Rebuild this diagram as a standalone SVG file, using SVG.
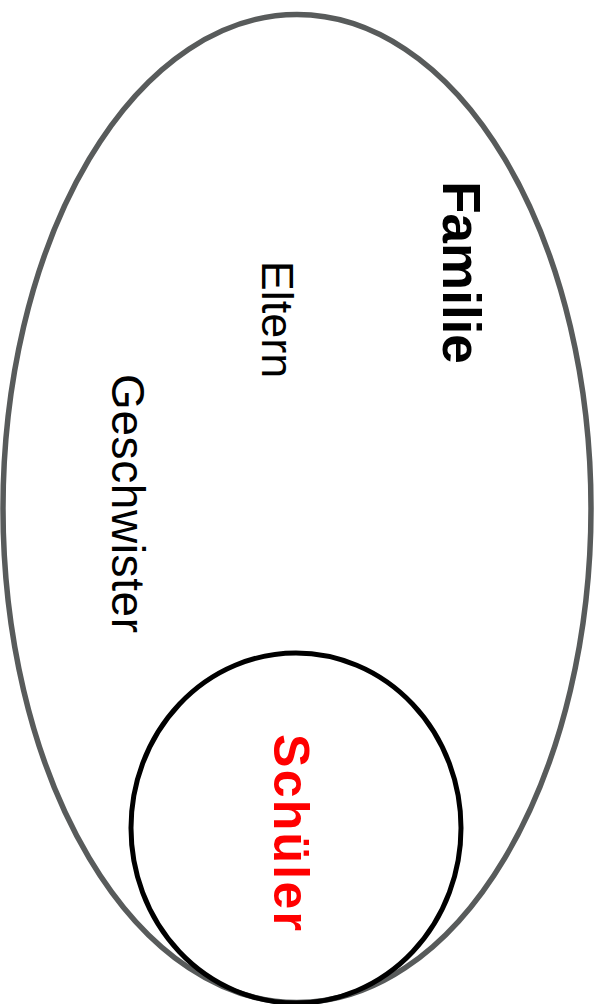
<svg xmlns="http://www.w3.org/2000/svg" width="599" height="1004" viewBox="0 0 599 1004">
  <style>
    .lbl { font-family: "Liberation Sans", Arial, Helvetica, sans-serif; text-anchor: middle; }
    .bold { font-weight: bold; }
  </style>
  <rect width="599" height="1004" fill="#ffffff"/>
  <g id="familie">
    <ellipse cx="297" cy="508.5" rx="294" ry="494" fill="none" stroke="#585b5b" stroke-width="5.5"/>
    <text class="lbl bold" font-size="53" fill="#000000" transform="translate(443,272.5) rotate(90)">Familie</text>
  </g>
  <g id="eltern">
    <text class="lbl" font-size="45" fill="#000000" transform="translate(262,319.5) rotate(90)">Eltern</text>
  </g>
  <g id="geschwister">
    <text class="lbl" font-size="46" fill="#000000" textLength="259" lengthAdjust="spacing" transform="translate(112,503.5) rotate(90)">Geschwister</text>
  </g>
  <g id="schueler">
    <ellipse cx="296" cy="828" rx="165" ry="175" fill="none" stroke="#000000" stroke-width="5"/>
    <text class="lbl bold" font-size="50" fill="#ff0000" textLength="197" lengthAdjust="spacing" transform="translate(274,832.5) rotate(90)">Schüler</text>
  </g>
  <g id="connectors"/>
</svg>
